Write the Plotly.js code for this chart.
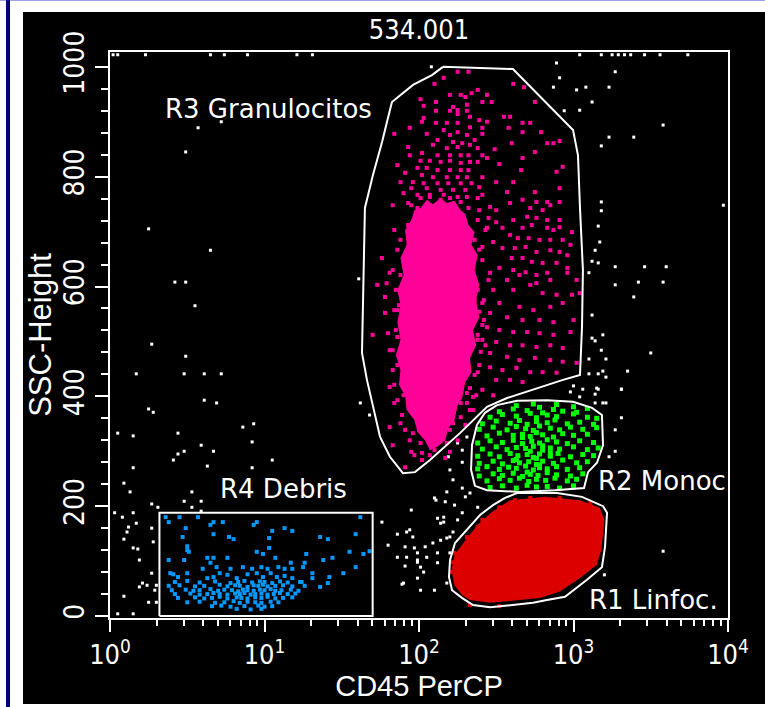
<!DOCTYPE html>
<html>
<head>
<meta charset="utf-8">
<script src="https://cdn.plot.ly/plotly-3.0.1.min.js"></script>
<style>
  body { margin:0; background:#fff; width:765px; height:707px; overflow:hidden; position:relative; }
  #topline { position:absolute; left:0; top:0; width:765px; height:1px; background:#a0a0e0; }
  #navy { position:absolute; left:6px; top:0; width:3px; height:707px; background:#000080; border-right:1px solid #000030; }
  #chart { position:absolute; left:23px; top:12px; width:742px; height:692px; }
</style>
</head>
<body>
<div id="topline"></div>
<div id="navy"></div>
<div id="chart"></div>
<script>
// CD45 PerCP en decadas log10, SSC-Height en canales (0-1023)
const pinkLog = [2.25,2.32,2.16,2.10,2.61,2.68,2.38,2.20,2.27,2.30,2.34,2.44,2.01,2.03,2.11,2.22,2.31,2.41,2.47,2.75,
  2.20,2.25,2.31,2.11,2.25,2.33,2.03,2.55,2.59,2.39,2.02,1.94,2.11,2.18,2.25,2.33,2.41,2.44,2.58,2.67,
  2.72,2.67,2.79,1.84,2.05,2.16,2.20,2.25,2.31,2.41,2.36,2.12,2.22,2.28,2.60,2.87,2.91,2.83,1.93,2.09,
  2.18,2.25,2.33,2.38,2.49,1.94,2.02,2.12,2.20,2.27,2.32,2.41,2.75,2.67,2.01,2.07,2.14,2.20,2.27,2.33,
  2.38,2.44,2.52,1.86,1.99,2.05,2.12,2.20,2.27,2.32,2.66,2.89,2.93,1.91,2.02,2.09,2.18,2.25,2.31,2.41,
  2.50,2.61,1.88,1.96,2.03,2.12,2.19,2.27,2.34,2.39,2.57,2.75,1.95,2.05,2.14,2.22,2.30,1.90,1.99,2.07,
  2.16,2.25,2.31,2.38,2.41,2.67,2.76,2.83,2.91,2.91,1.83,1.93,1.99,2.46,2.50,2.59,2.72,2.80,2.85,2.70,
  2.76,2.83,2.91,2.61,2.45,2.50,2.54,2.44,2.67,2.73,2.83,2.87,2.91,2.99,2.59,2.64,2.71,2.78,2.85,2.93,
  2.98,2.48,2.41,2.54,2.62,2.69,2.76,2.85,2.91,2.96,1.76,1.81,2.60,2.67,2.73,2.80,2.89,2.96,2.52,2.61,
  2.69,2.76,2.83,2.46,2.57,2.65,2.76,2.85,2.96,3.02,2.48,2.61,2.72,2.80,2.89,2.99,3.04,2.41,2.52,2.65,
  2.74,2.85,2.93,2.46,2.57,2.67,2.78,2.87,3.00,2.44,2.52,2.61,2.70,2.78,2.87,2.98,2.41,2.50,2.59,2.67,
  2.76,2.85,2.93,2.46,2.57,2.65,2.75,2.85,2.93,3.02,2.46,2.54,2.63,2.72,2.80,2.89,2.50,2.59,2.67,2.41,
  2.48,2.31,2.35,2.27,2.20,2.22,2.14,2.18,2.07,2.10,2.02,2.01,1.95,1.91,1.83,1.81,1.88,1.84,1.81,1.83,
  1.81,1.80,1.78,1.78,1.79,1.73,1.70,1.86,1.86,1.88,1.89,2.31,2.35,2.27,2.20,2.14,2.08,2.03,2.01,1.96,
  2.38,2.39,2.38,2.40,2.38,2.33,2.42,2.36,
  1.84,1.86,1.83,1.85,1.84,1.85,1.83,1.86,1.84,1.86,1.89,1.91,1.94,1.97,2.02,2.07,
  1.88,1.88,1.87,1.88,1.90,
  2.39,2.43,2.41,2.45,2.42,2.41,2.43,2.39,2.37,2.33,2.30,2.25,2.20,2.17,
  2.38,2.36,2.39,2.38,2.36,
  1.95,2.01,2.07,2.14,2.20,2.27,2.32,2.04,2.23,1.97,1.93];
const pinkSsc = [991,991,980,969,969,963,958,949,949,945,952,949,941,929,936,927,931,936,936,936,
  920,921,920,920,914,909,907,909,909,903,900,889,898,898,898,890,889,900,889,898,
  898,881,881,878,878,885,876,881,876,878,867,867,863,861,861,861,865,861,854,858,
  852,854,858,852,850,839,843,839,839,839,839,839,845,834,829,829,827,829,825,827,
  827,834,823,821,816,816,812,812,812,812,812,809,818,807,803,799,799,799,799,799,
  790,790,790,790,788,788,788,788,788,781,772,772,779,779,776,776,776,770,767,763,
  767,763,763,761,767,758,754,754,779,754,748,752,743,745,739,752,743,739,748,727,
  725,721,721,721,725,717,707,707,707,712,707,703,708,699,694,688,688,685,685,685,
  676,681,672,670,670,672,663,666,663,657,652,625,652,652,645,643,643,634,634,630,
  626,621,625,625,612,621,606,612,625,612,594,594,603,588,585,585,588,570,570,563,
  557,563,570,552,544,539,539,535,539,526,521,517,517,515,512,517,503,499,493,493,
  490,493,488,479,472,466,470,466,463,461,453,448,452,444,444,443,430,430,426,412,
  402,388,375,362,339,351,326,315,315,302,297,315,299,271,311,344,351,388,417,448,
  484,515,552,581,606,603,512,557,508,472,435,406,399,388,375,362,351,339,351,333,
  594,554,512,481,444,415,539,575,
  703,667,630,594,557,521,484,457,421,393,366,339,320,293,284,293,
  685,621,566,466,402,
  739,703,648,612,575,530,493,457,402,375,348,320,299,288,
  721,685,667,503,439,
  748,761,767,758,761,754,743,739,745,721,712];

// zona densa de granulocitos (contorno irregular)
const pinkCoreLog = [2.01,2.05,2.09,2.14,2.18,2.23,2.27,2.30,2.32,2.36,2.34,2.38,2.36,2.39,2.37,2.39,2.35,2.37,2.33,2.34,
  2.30,2.28,2.25,2.23,2.19,2.17,2.12,2.07,2.04,1.99,1.97,1.92,1.91,1.87,1.88,1.85,1.88,1.86,1.88,1.86,
  1.90,1.88,1.92,1.91,1.95,1.97];
const pinkCoreSsc = [743,758,750,761,752,756,739,732,712,699,676,657,630,603,575,543,521,493,470,444,
  426,397,384,357,342,320,308,302,319,335,357,375,401,421,448,475,503,535,566,594,
  621,652,676,703,721,739];

const greenLog = [2.63,2.74,2.78,2.89,3.00,3.09,
  2.52,2.61,2.70,2.80,2.87,2.93,3.02,
  2.46,2.54,2.63,2.72,2.76,2.83,2.89,3.00,3.09,3.15,
  2.41,2.50,2.59,2.65,2.70,2.76,2.83,2.88,2.96,3.04,3.13,
  2.39,2.48,2.57,2.63,2.69,2.74,2.78,2.85,2.91,2.98,3.06,3.15,
  2.44,2.52,2.61,2.67,2.72,2.76,2.80,2.87,2.93,3.00,3.09,
  2.38,2.46,2.54,2.61,2.67,2.73,2.78,2.83,2.89,2.96,3.04,3.13,
  2.41,2.50,2.57,2.63,2.69,2.74,2.80,2.85,2.91,3.00,3.09,3.16,
  2.38,2.46,2.52,2.59,2.64,2.70,2.74,2.78,2.85,2.90,2.98,3.06,3.13,
  2.39,2.48,2.54,2.61,2.65,2.71,2.76,2.80,2.87,2.93,3.02,3.09,
  2.38,2.44,2.52,2.58,2.63,2.69,2.74,2.78,2.83,2.89,2.96,3.04,
  2.39,2.48,2.54,2.61,2.67,2.72,2.77,2.83,2.89,2.98,3.06,
  2.44,2.52,2.59,2.65,2.71,2.76,2.82,2.88,2.96,3.02,
  2.46,2.54,2.63,2.70,2.76,2.83,2.91,3.00,
  2.67,2.72,2.80,2.76,2.70,2.85,2.63,2.78];
const greenSsc = [383,386,380,385,381,378,
  372,377,374,370,376,373,371,
  362,367,364,369,361,366,363,368,362,360,
  350,355,351,356,349,354,352,357,350,353,349,
  340,344,339,345,341,338,346,342,339,344,340,343,
  328,333,329,331,327,334,330,326,332,329,331,
  315,319,316,320,314,318,315,321,317,314,319,316,
  304,308,303,307,305,309,302,306,304,308,303,306,
  291,295,290,296,292,294,289,295,291,296,290,294,292,
  278,282,277,283,279,281,276,282,278,284,279,281,
  268,272,267,271,269,273,266,270,268,272,267,270,
  255,259,256,260,254,258,256,261,257,255,259,
  246,250,247,251,245,249,247,251,246,249,
  234,237,233,238,235,236,233,237,
  325,300,310,287,262,297,285,275];

// linfocitos: zona compacta y bordes
const redCoreLog = [2.59,2.82,3.04,3.17,3.20,3.18,3.15,3.04,2.91,2.78,2.65,2.46,2.33,2.28,2.23,2.21,2.23,2.30,2.38,2.47];
const redCoreSsc = [211,217,211,197,175,120,93,69,44,33,29,24,29,38,56,84,111,138,166,189];
const redLog = [2.22,2.21,2.25,2.28,2.23,2.31,2.38,2.41,2.52,2.62,3.15,3.17,3.13,3.06,3.00,2.72,2.91,3.11,2.33,2.52];
const redSsc = [98,80,66,47,115,144,162,175,198,211,175,157,144,89,66,215,215,206,20,18];

const blueLog = [0.36,0.45,0.57,1.62,0.38,0.67,0.73,0.95,0.93,0.49,0.65,1.13,1.18,1.05,0.67,0.77,0.80,1.03,1.36,1.41,
  1.59,0.47,0.50,0.50,1.03,0.95,1.55,1.68,1.64,1.27,0.51,0.38,0.48,0.63,0.67,0.76,0.99,1.07,1.17,1.26,
  1.38,1.44,1.59,0.65,0.69,0.78,0.86,0.92,0.98,1.02,1.09,1.13,1.18,1.25,1.31,1.51,1.42,0.39,0.41,0.44,
  0.50,0.60,0.63,0.67,0.71,0.76,0.82,0.89,0.95,0.99,1.04,1.08,1.13,1.18,1.24,1.31,1.36,1.41,
  0.42,0.50,0.58,0.68,0.78,0.83,0.87,0.92,0.97,1.00,1.05,1.10,1.15,1.23,
  0.38,0.45,0.55,0.61,0.71,0.76,0.81,0.84,0.89,0.93,0.96,0.99,1.02,1.07,1.12,1.18,1.26,
  0.40,0.49,0.54,0.58,0.65,0.70,0.74,0.79,0.83,0.86,0.89,0.93,0.97,1.00,1.04,1.07,1.11,1.17,1.22,
  0.42,0.52,0.58,0.63,0.67,0.71,0.76,0.81,0.84,0.87,0.91,0.94,0.98,1.02,1.06,1.10,1.15,1.20,
  0.44,0.55,0.61,0.66,0.71,0.76,0.82,0.85,0.89,0.94,0.98,1.02,1.07,1.12,1.18,
  0.50,0.58,0.68,0.74,0.80,0.84,0.89,0.94,0.98,1.04,1.09,
  0.66,0.72,0.78,0.87,0.96,1.00,1.05,
  0.82,0.91,0.98];
const blueSsc = [180,180,180,180,171,171,171,171,166,160,166,160,155,155,149,144,140,142,144,140,
  149,144,127,120,124,117,117,118,113,113,117,102,102,106,106,106,113,106,97,97,
  102,106,89,97,89,86,89,86,89,86,89,86,86,89,78,78,71,78,76,71,
  78,86,69,71,78,75,69,76,78,71,78,71,73,69,62,69,53,60,
  62,64,61,63,60,62,64,61,63,62,60,63,61,62,
  55,56,54,55,57,54,56,55,53,56,55,57,54,55,56,54,55,
  47,48,46,47,49,46,48,47,45,48,47,46,48,47,49,46,47,48,46,
  40,41,39,40,42,40,39,41,40,42,39,40,41,39,40,42,40,41,
  33,34,32,33,35,32,34,33,32,34,33,35,32,33,34,
  25,26,24,25,27,24,26,25,24,26,25,
  18,19,17,18,19,17,18,
  13,12,13];

const whiteLog = [0.57,0.72,0.49,0.25,0.65,0.42,0.49,0.55,0.27,0.49,0.17,0.48,0.61,0.72,0.61,0.69,0.25,0.28,0.05,0.15,
  0.44,0.86,0.93,0.92,0.59,0.67,0.48,0.44,0.41,1.05,0.63,0.15,0.92,0.09,0.13,0.53,0.59,0.48,0.27,0.31,
  0.53,1.61,1.62,1.68,0.03,0.15,0.08,0.17,0.12,0.11,0.27,0.09,0.28,0.15,0.18,0.19,0.27,0.19,0.21,0.24,
  0.30,0.29,0.09,0.25,0.30,0.15,0.05,0.59,
  1.76,1.86,1.94,1.80,1.91,1.97,2.04,2.09,2.14,1.86,1.92,1.99,2.05,1.91,2.01,2.03,1.99,1.89,2.01,2.10,
  2.18,2.11,2.17,1.95,2.12,2.16,2.18,1.92,1.96,1.99,2.12,1.99,2.12,1.90,2.20,2.22,2.20,2.16,2.25,2.28,
  2.23,2.30,2.33,2.38,2.14,2.10,2.18,2.22,2.28,2.20,2.28,2.28,2.19,2.25,2.31,
  3.31,3.27,3.27,3.23,3.31,3.15,3.19,3.58,3.20,
  3.27,3.08,3.02,3.23,3.12,3.04,3.58,3.23,3.39,3.18,3.18,3.18,3.16,3.17,3.14,3.16,3.12,3.10,3.27,3.46,
  3.60,3.42,3.58,3.27,3.39,3.12,3.19,3.12,3.14,3.18,3.50,3.10,3.21,3.10,3.16,3.19,3.35,3.21,3.00,3.06,
  3.16,3.31,2.98,3.14,3.04,3.14,3.21,3.97,
  2.89,2.91,2.87,2.94,2.08,
  0.02,0.05,0.23,0.65,0.74,0.89,1.21,1.31,3.04,3.18,3.25,3.29,3.33,3.37,3.46,3.56,3.74];
const whiteSsc = [889,900,845,705,666,608,608,565,495,473,441,441,441,441,393,388,377,371,333,328,
  333,344,350,317,311,300,300,295,284,284,273,270,270,242,226,226,209,209,204,198,
  198,614,388,366,188,188,180,169,162,153,160,140,135,124,122,102,78,53,60,56,
  56,47,36,25,25,4,4,191,
  171,149,157,129,126,124,126,133,138,107,107,102,107,91,89,80,69,58,47,47,
  60,211,208,193,178,171,142,153,144,115,115,98,97,60,115,153,144,180,175,188,
  202,217,224,198,169,215,226,248,233,266,280,302,290,315,326,
  361,339,300,290,413,415,388,118,75,
  991,963,958,963,936,921,894,872,872,856,754,738,710,681,666,643,646,625,636,636,
  636,608,608,603,581,548,512,506,501,484,479,468,468,441,441,446,446,435,419,413,
  413,413,408,404,399,388,388,748,
  1007,980,963,920,1000,
  1022,1022,1022,1022,1022,1022,1022,1022,1022,1022,1022,1022,1022,1022,1022,1022,1022];

// regiones (gates)
const r1Log = [2.557,2.634,2.893,3.055,3.191,3.217,3.204,3.184,3.087,2.945,2.828,2.738,2.460,2.350,2.278,2.214,2.194,2.201,2.233,2.311,2.395,2.479];
const r1Ssc = [215,224,224,217,200,188,126,89,66,35,29,24,16,20,33,47,71,102,133,157,184,202];
const r2Log = [2.505,2.634,2.828,2.997,3.120,3.184,3.191,3.152,3.094,3.068,2.880,2.654,2.440,2.362,2.337,2.343,2.375,2.427];
const r2Ssc = [384,392,393,390,379,366,311,279,262,233,229,226,229,237,266,311,348,370];
const r3Log = [2.155,2.608,2.997,3.029,3.042,3.061,3.055,3.042,2.932,2.764,2.570,2.440,2.265,2.071,1.974,1.896,1.812,1.748,1.663,1.631,1.638,1.650,1.702,1.761,1.799,1.825,1.961,2.084];
const r3Ssc = [1000,996,885,839,743,630,526,439,430,415,397,381,333,284,262,260,290,326,430,479,603,743,803,863,907,936,967,985];
const r4Log = [0.32,1.70,1.70,0.32];
const r4Ssc = [0,0,188,188];

const NARROW = 'Liberation Sans Narrow, DejaVu Sans Condensed, Arial Narrow, sans-serif';
const LABEL = 'DejaVu Sans, sans-serif';
const AXT = 'Liberation Sans, Arial, sans-serif';

const toLin = arr => arr.map(v => Math.pow(10, v));

function dots(logs, ssc, color, size) {
  return { x: toLin(logs), y: ssc, type: 'scatter', mode: 'markers', hoverinfo: 'skip',
    marker: { symbol: 'square', size: size, color: color, line: { width: 0 } } };
}
function blob(logs, ssc, color) {
  return { x: toLin(logs.concat(logs[0])), y: ssc.concat(ssc[0]), type: 'scatter', mode: 'lines',
    fill: 'toself', fillcolor: color, line: { width: 0, color: color }, hoverinfo: 'skip' };
}
function gate(logs, ssc) {
  return { x: toLin(logs.concat(logs[0])), y: ssc.concat(ssc[0]), type: 'scatter', mode: 'lines',
    line: { color: 'white', width: 2 }, hoverinfo: 'skip' };
}

const minorX = [];
[1, 10, 100, 1000].forEach(b => { for (let k = 2; k <= 9; k++) minorX.push(b * k); });

const traces = [
  dots(whiteLog, whiteSsc, 'white', 3),
  blob(redCoreLog, redCoreSsc, '#dd0000'),
  dots(redLog, redSsc, '#dd0000', 4),
  blob(pinkCoreLog, pinkCoreSsc, '#ff0099'),
  dots(pinkLog, pinkSsc, '#ff0099', 4),
  dots(greenLog, greenSsc, '#00ff00', 5),
  dots(blueLog, blueSsc, '#0099ff', 4),
  gate(r1Log, r1Ssc),
  gate(r2Log, r2Ssc),
  gate(r3Log, r3Ssc),
  gate(r4Log, r4Ssc)
];

function label(text, x, y) {
  return { text: text, xref: 'paper', yref: 'paper', x: x, y: y, xanchor: 'left', yanchor: 'middle',
    showarrow: false, font: { family: LABEL, size: 26, color: 'white' } };
}

const layout = {
  width: 742, height: 692,
  margin: { l: 87, r: 37, t: 40, b: 86 },
  paper_bgcolor: '#000', plot_bgcolor: '#000',
  showlegend: false,
  title: { text: '534.001', x: 0.5, xref: 'paper', xanchor: 'center', y: 0.974, yref: 'container', yanchor: 'middle',
    font: { family: NARROW, size: 27, color: 'white' } },
  xaxis: {
    type: 'log', range: [0, 4], showgrid: false, zeroline: false,
    showline: true, linecolor: 'white', linewidth: 2, mirror: true,
    ticks: 'outside', ticklen: 12, tickwidth: 2, tickcolor: 'white',
    tickvals: [1, 10, 100, 1000, 10000],
    ticktext: ['10<sup>0</sup>', '10<sup>1</sup>', '10<sup>2</sup>', '10<sup>3</sup>', '10<sup>4</sup>'],
    tickfont: { family: NARROW, size: 27, color: 'white' },
    minor: { ticks: 'outside', ticklen: 6, tickwidth: 2, tickcolor: 'white', tickvals: minorX, showgrid: false },
    title: { text: 'CD45 PerCP', font: { family: AXT, size: 29, color: 'white' }, standoff: 2 }
  },
  yaxis: {
    range: [-3.6, 1027], showgrid: false, zeroline: false,
    showline: true, linecolor: 'white', linewidth: 2, mirror: true,
    tick0: 0, dtick: 200, ticks: 'outside', ticklen: 13, tickwidth: 2, tickcolor: 'white',
    tickangle: -90,
    tickfont: { family: NARROW, size: 28, color: 'white' },
    minor: { ticks: 'outside', ticklen: 7, tickwidth: 2, tickcolor: 'white', dtick: 40, showgrid: false },
    title: { text: 'SSC-Height', font: { family: AXT, size: 31, color: 'white' }, standoff: 6 }
  },
  annotations: [
    label('R3 Granulocitos', 0.086, 0.899),
    label('R4 Debris', 0.175, 0.228),
    label('R2 Monoc', 0.786, 0.242),
    label('R1 Linfoc.', 0.772, 0.032)
  ]
};

Plotly.newPlot('chart', traces, layout, { staticPlot: true });
</script>
</body>
</html>
